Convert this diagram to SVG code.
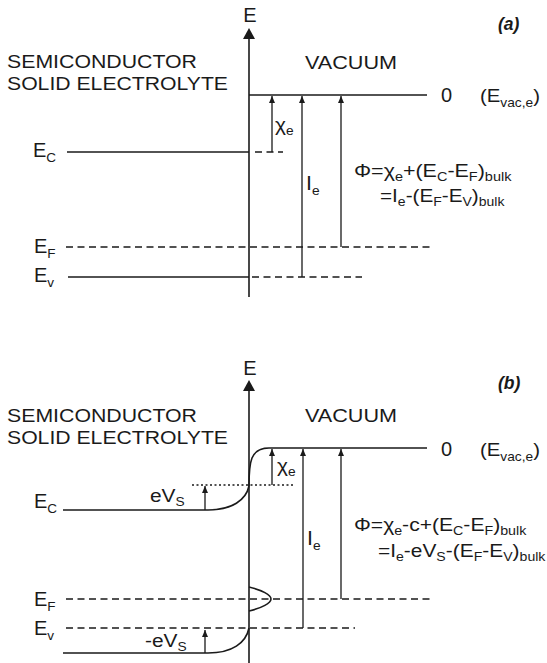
<svg xmlns="http://www.w3.org/2000/svg" width="547" height="663" viewBox="0 0 547 663">
<style>
text{font-family:"Liberation Sans",Arial,sans-serif;fill:#1a1a1a;font-size:18.5px}
.sub{font-size:12.5px}
.lab{font-size:20px}
.lab .sub{font-size:13.5px}
.big{font-size:20px}
.lbl{font-style:italic;font-weight:bold;font-size:17.5px}
.ln{stroke:#1a1a1a;stroke-width:1.6;fill:none}
.dash{stroke:#1a1a1a;stroke-width:1.5;fill:none;stroke-dasharray:7 4.5}
.dot{stroke:#1a1a1a;stroke-width:1.5;fill:none;stroke-dasharray:2 2.5}
.arr{stroke:#1a1a1a;stroke-width:1.3;fill:none;marker-end:url(#ah)}
</style>
<defs>
<marker id="ah" markerUnits="userSpaceOnUse" markerWidth="8" markerHeight="8" refX="7" refY="3" orient="auto">
<path d="M0,0 L7,3 L0,6 z" fill="#1a1a1a"/>
</marker>
</defs>
<rect width="547" height="663" fill="#fff"/>

<!-- Panel (a) -->
<g id="a-axis">
<line class="ln" x1="249" y1="36" x2="249" y2="297"/>
<path d="M249,28 L255,39 L243,39 z" fill="#1a1a1a"/>
<text class="big" x="250" y="22" text-anchor="middle">E</text>
</g>
<g id="a-title"><text class="lbl" x="498" y="30">(a)</text></g>
<g id="a-region-labels">
<text x="7" y="68" textLength="190" lengthAdjust="spacingAndGlyphs" style="font-size:19px">SEMICONDUCTOR</text>
<text x="7" y="90" textLength="221" lengthAdjust="spacingAndGlyphs" style="font-size:19px">SOLID ELECTROLYTE</text>
<text x="305" y="69" textLength="92" lengthAdjust="spacingAndGlyphs" style="font-size:19px">VACUUM</text>
</g>
<g id="a-levels">
<line class="ln" x1="249" y1="95" x2="427" y2="95"/>
<text class="big" x="441" y="102">0</text>
<text transform="translate(480,102) scale(1.1,1)">(E<tspan class="sub" dy="5">vac,e</tspan><tspan dy="-5">)</tspan></text>
<line class="ln" x1="67" y1="152" x2="249" y2="152"/>
<line class="dash" x1="255" y1="152" x2="283" y2="152"/>
<text class="lab" x="33" y="157">E<tspan class="sub" dy="5">C</tspan></text>
<line class="dash" x1="66" y1="247" x2="430" y2="247"/>
<text class="lab" x="34" y="253">E<tspan class="sub" dy="5">F</tspan></text>
<line class="ln" x1="68" y1="277" x2="249" y2="277"/>
<line class="dash" x1="252" y1="277" x2="362" y2="277"/>
<text class="lab" x="34" y="282">E<tspan class="sub" dy="5">v</tspan></text>
</g>
<g id="a-arrows">
<line class="arr" x1="272" y1="152" x2="272" y2="96"/>
<text transform="translate(275,131) scale(1.1,1)" style="font-size:19px">χ<tspan class="sub" dy="4">e</tspan></text>
<line class="arr" x1="302" y1="277" x2="302" y2="96"/>
<text transform="translate(306,190) scale(1.1,1)" style="font-size:19.5px">I<tspan class="sub" dy="5">e</tspan></text>
<line class="arr" x1="341" y1="247" x2="341" y2="96"/>
</g>
<g id="a-formula">
<text transform="translate(354,177) scale(1.16,1)">Φ=χ<tspan class="sub" dy="4">e</tspan><tspan dy="-4">+(E</tspan><tspan class="sub" dy="4">C</tspan><tspan dy="-4">-E</tspan><tspan class="sub" dy="4">F</tspan><tspan dy="-4">)</tspan><tspan class="sub" dy="4">bulk</tspan></text>
<text transform="translate(380,202) scale(1.12,1)">=I<tspan class="sub" dy="4">e</tspan><tspan dy="-4">-(E</tspan><tspan class="sub" dy="4">F</tspan><tspan dy="-4">-E</tspan><tspan class="sub" dy="4">V</tspan><tspan dy="-4">)</tspan><tspan class="sub" dy="4">bulk</tspan></text>
</g>

<!-- Panel (b) -->
<g id="b-axis">
<line class="ln" x1="249" y1="388" x2="249" y2="663"/>
<path d="M249,380 L255,391 L243,391 z" fill="#1a1a1a"/>
<text class="big" x="250" y="375" text-anchor="middle">E</text>
</g>
<g id="b-title"><text class="lbl" x="498" y="389">(b)</text></g>
<g id="b-region-labels">
<text x="7" y="422" textLength="190" lengthAdjust="spacingAndGlyphs" style="font-size:19px">SEMICONDUCTOR</text>
<text x="7" y="444" textLength="221" lengthAdjust="spacingAndGlyphs" style="font-size:19px">SOLID ELECTROLYTE</text>
<text x="305" y="422" textLength="92" lengthAdjust="spacingAndGlyphs" style="font-size:19px">VACUUM</text>
</g>
<g id="b-levels">
<path class="ln" d="M249,486 C249,472 250,463 252,458 C255,451 260,448 269,448 H427"/>
<text class="big" x="441" y="456">0</text>
<text transform="translate(480,456) scale(1.1,1)">(E<tspan class="sub" dy="5">vac,e</tspan><tspan dy="-5">)</tspan></text>
<line class="dot" x1="192" y1="485" x2="293" y2="485"/>
<path class="ln" d="M63,510 H208 C232,510 246,500 249,486"/>
<text class="lab" x="34" y="508">E<tspan class="sub" dy="5">C</tspan></text>
<line class="dash" x1="66" y1="599" x2="430" y2="599"/>
<path class="ln" d="M249,587 C262,590 271,595 271,599 C271,603 262,608 249,611"/>
<text class="lab" x="34" y="606">E<tspan class="sub" dy="5">F</tspan></text>
<line class="dash" x1="66" y1="628" x2="355" y2="628"/>
<text class="lab" x="34" y="635">E<tspan class="sub" dy="5">v</tspan></text>
<path class="ln" d="M63,653 H208 C232,653 246,643 249,628"/>
</g>
<g id="b-arrows">
<line class="arr" x1="205" y1="510" x2="205" y2="486"/>
<text transform="translate(150,502) scale(1.1,1)" style="font-size:19px">eV<tspan class="sub" dy="4">S</tspan></text>
<line class="arr" x1="205" y1="653" x2="205" y2="630"/>
<text transform="translate(145,647) scale(1.1,1)" style="font-size:19px">-eV<tspan class="sub" dy="4">S</tspan></text>
<line class="arr" x1="272" y1="485" x2="272" y2="449"/>
<text transform="translate(277,472) scale(1.1,1)" style="font-size:19px">χ<tspan class="sub" dy="4">e</tspan></text>
<line class="arr" x1="303" y1="628" x2="303" y2="449"/>
<text transform="translate(307,545) scale(1.1,1)" style="font-size:19.5px">I<tspan class="sub" dy="5">e</tspan></text>
<line class="arr" x1="341" y1="599" x2="341" y2="449"/>
</g>
<g id="b-formula">
<text transform="translate(354,531) scale(1.14,1)">Φ=χ<tspan class="sub" dy="4">e</tspan><tspan dy="-4">-c+(E</tspan><tspan class="sub" dy="4">C</tspan><tspan dy="-4">-E</tspan><tspan class="sub" dy="4">F</tspan><tspan dy="-4">)</tspan><tspan class="sub" dy="4">bulk</tspan></text>
<text transform="translate(378,557) scale(1.13,1)">=I<tspan class="sub" dy="4">e</tspan><tspan dy="-4">-eV</tspan><tspan class="sub" dy="4">S</tspan><tspan dy="-4">-(E</tspan><tspan class="sub" dy="4">F</tspan><tspan dy="-4">-E</tspan><tspan class="sub" dy="4">V</tspan><tspan dy="-4">)</tspan><tspan class="sub" dy="4">bulk</tspan></text>
</g>
</svg>
